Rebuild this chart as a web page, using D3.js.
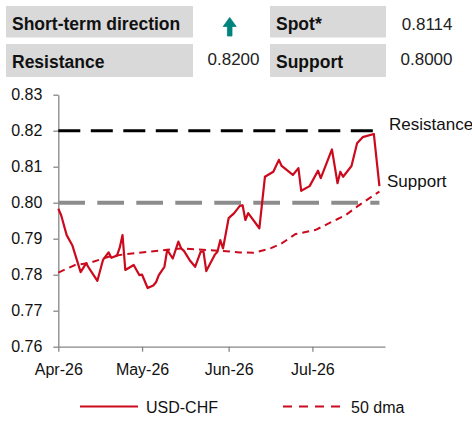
<!DOCTYPE html>
<html>
<head>
<meta charset="utf-8">
<script src="https://cdn.jsdelivr.net/npm/d3@7"></script>
<style>
  body { margin: 0; background: #fff; }
  svg { font-family: "Liberation Sans", Arial, sans-serif; display: block; }
</style>
</head>
<body>
<script>
// USD-CHF daily closes (turning points)
var spotDates = ["2026-04-01","2026-04-02","2026-04-04","2026-04-06","2026-04-09","2026-04-11","2026-04-12","2026-04-15",
  "2026-04-17","2026-04-19","2026-04-20","2026-04-22","2026-04-23","2026-04-24","2026-04-25","2026-04-28","2026-04-30",
  "2026-05-01","2026-05-03","2026-05-05","2026-05-06","2026-05-07","2026-05-09","2026-05-10","2026-05-12","2026-05-14",
  "2026-05-15","2026-05-16","2026-05-18","2026-05-20","2026-05-22","2026-05-23","2026-05-24","2026-05-27","2026-05-28",
  "2026-05-29","2026-05-30","2026-06-01","2026-06-03","2026-06-05","2026-06-06","2026-06-07","2026-06-08","2026-06-12",
  "2026-06-14","2026-06-17","2026-06-19","2026-06-20","2026-06-24","2026-06-26","2026-06-27","2026-06-30","2026-07-03",
  "2026-07-04","2026-07-08","2026-07-10","2026-07-11","2026-07-12","2026-07-15","2026-07-17","2026-07-19","2026-07-23",
  "2026-07-25"];
var spotValues = [0.7983,0.7966,0.7910,0.7882,0.7807,0.7832,0.7818,0.7783,
  0.7841,0.7862,0.7847,0.7853,0.7875,0.7910,0.7813,0.7827,0.7799,
  0.7800,0.7763,0.7770,0.7779,0.7799,0.7822,0.7869,0.7845,0.7892,
  0.7873,0.7866,0.7841,0.7822,0.7864,0.7864,0.7810,0.7855,0.7864,
  0.7896,0.7873,0.7957,0.7971,0.7991,0.7993,0.7952,0.7971,0.7929,
  0.8072,0.8086,0.8119,0.8102,0.8077,0.8096,0.8033,0.8046,0.8089,
  0.8068,0.8148,0.8054,0.8086,0.8072,0.8102,0.8165,0.8182,0.8191,
  0.8046];

// 50-day moving average
var dmaDates = ["2026-04-01","2026-04-07","2026-04-12","2026-04-19","2026-04-25","2026-05-04","2026-05-15","2026-06-02",
  "2026-06-05","2026-06-10","2026-06-16","2026-06-20","2026-06-25","2026-07-02","2026-07-07","2026-07-13","2026-07-17",
  "2026-07-23","2026-07-25"];
var dmaValues = [0.7806,0.7827,0.7832,0.7850,0.7857,0.7864,0.7873,0.7864,
  0.7862,0.7861,0.7873,0.7887,0.7913,0.7924,0.7943,0.7966,0.7989,
  0.8021,0.8031];

var resistance = 0.82, support = 0.80, spot = 0.8114;
var yTicks = [0.76, 0.77, 0.78, 0.79, 0.80, 0.81, 0.82, 0.83];
var xTicks = ["2026-04-01", "2026-05-01", "2026-06-01", "2026-07-01"];
var xEnd = "2026-07-27";

var parse = d3.timeParse("%Y-%m-%d");
var spotData = spotDates.map(function(d, i) { return {date: parse(d), value: spotValues[i]}; });
var dmaData = dmaDates.map(function(d, i) { return {date: parse(d), value: dmaValues[i]}; });

var red = "#cc0a1e";

var svg = d3.select("body").append("svg")
    .attr("width", 472)
    .attr("height", 421);

// ---- header table ----
var cells = [
  {x: 6, y: 6, w: 187, h: 31.5, label: "Short-term direction"},
  {x: 270, y: 6, w: 116, h: 31.5, label: "Spot*"},
  {x: 6, y: 44, w: 187, h: 33, label: "Resistance"},
  {x: 270, y: 44, w: 116, h: 33, label: "Support"}
];
var head = svg.append("g");
head.selectAll("rect").data(cells).enter().append("rect")
    .attr("x", function(d) { return d.x; })
    .attr("y", function(d) { return d.y; })
    .attr("width", function(d) { return d.w; })
    .attr("height", function(d) { return d.h; })
    .attr("fill", "#d9d9d9");
head.selectAll("text.lab").data(cells).enter().append("text")
    .attr("class", "lab")
    .attr("x", function(d) { return d.x + 6; })
    .attr("y", function(d) { return d.y + 24; })
    .attr("font-size", 17.5)
    .attr("font-weight", "bold")
    .attr("fill", "#111")
    .text(function(d) { return d.label; });

var fmt4 = d3.format(".4f");
var vals = [
  {x: 452.5, y: 30, v: spot},
  {x: 259.5, y: 65, v: resistance},
  {x: 452.5, y: 65, v: support}
];
head.selectAll("text.val").data(vals).enter().append("text")
    .attr("class", "val")
    .attr("x", function(d) { return d.x; })
    .attr("y", function(d) { return d.y; })
    .attr("text-anchor", "end")
    .attr("font-size", 17)
    .attr("fill", "#222")
    .text(function(d) { return fmt4(d.v); });

// up arrow for the direction
head.append("path")
    .attr("d", "M229.7,17.5 L236.2,26.5 L232,26.5 L232,36 L227.4,36 L227.4,26.5 L223.2,26.5 Z")
    .attr("fill", "#00837c")
    .attr("stroke", "#00837c")
    .attr("stroke-width", 0.8)
    .attr("stroke-linejoin", "round");

// ---- chart ----
var x = d3.scaleTime()
    .domain([parse(xTicks[0]), parse(xEnd)])
    .range([58.3, 385]);
var y = d3.scaleLinear()
    .domain([0.76, 0.83])
    .range([346.7, 94.7]);

var axisColor = "#868686";

var gy = svg.append("g")
    .attr("transform", "translate(" + x.range()[0] + ",0)")
    .call(d3.axisLeft(y).tickValues(yTicks).tickFormat(d3.format(".2f")).tickSize(5).tickSizeOuter(0).tickPadding(11));
var gx = svg.append("g")
    .attr("transform", "translate(0," + y.range()[0] + ")")
    .call(d3.axisBottom(x).tickValues(xTicks.map(parse)).tickFormat(d3.timeFormat("%b-%y")).tickSize(5).tickSizeOuter(0).tickPadding(12));

[gx, gy].forEach(function(g) {
  g.selectAll("path, line").attr("stroke", axisColor).attr("stroke-width", 1.3);
  g.selectAll("text").attr("font-size", 16).attr("fill", "#111").attr("font-family", "Liberation Sans, Arial, sans-serif");
});

// resistance / support levels over the data span
var first = spotData[0].date, last = spotData[spotData.length - 1].date;
svg.append("line")
    .attr("x1", x(first)).attr("x2", x(last))
    .attr("y1", y(resistance)).attr("y2", y(resistance))
    .attr("stroke", "#000").attr("stroke-width", 3)
    .attr("stroke-dasharray", "22,10.5");
svg.append("line")
    .attr("x1", x(first)).attr("x2", x(last))
    .attr("y1", y(support)).attr("y2", y(support))
    .attr("stroke", "#8c8c8c").attr("stroke-width", 4)
    .attr("stroke-dasharray", "26.7,12.3");

var line = d3.line()
    .x(function(d) { return x(d.date); })
    .y(function(d) { return y(d.value); });

svg.append("path")
    .datum(dmaData)
    .attr("d", line)
    .attr("fill", "none")
    .attr("stroke", red)
    .attr("stroke-width", 2)
    .attr("stroke-dasharray", "7,5");

svg.append("path")
    .datum(spotData)
    .attr("d", line)
    .attr("fill", "none")
    .attr("stroke", red)
    .attr("stroke-width", 2.2)
    .attr("stroke-linejoin", "round");

svg.append("text")
    .attr("x", 389).attr("y", y(resistance) - 0.5)
    .attr("font-size", 17).attr("fill", "#111")
    .text("Resistance");
svg.append("text")
    .attr("x", 387).attr("y", 186.5)
    .attr("font-size", 17).attr("fill", "#111")
    .text("Support");

// ---- legend ----
var legend = [
  {x: 80, label: "USD-CHF", dash: null},
  {x: 283, label: "50 dma", dash: "9,7"}
];
var lg = svg.append("g").selectAll("g").data(legend).enter().append("g")
    .attr("transform", function(d) { return "translate(" + d.x + ",406.5)"; });
lg.append("line")
    .attr("x1", 0).attr("x2", 58)
    .attr("stroke", red).attr("stroke-width", 2)
    .attr("stroke-dasharray", function(d) { return d.dash; });
lg.append("text")
    .attr("x", function(d) { return d.dash ? 68 : 66; })
    .attr("y", 6)
    .attr("font-size", 16).attr("fill", "#111")
    .text(function(d) { return d.label; });
</script>
</body>
</html>
